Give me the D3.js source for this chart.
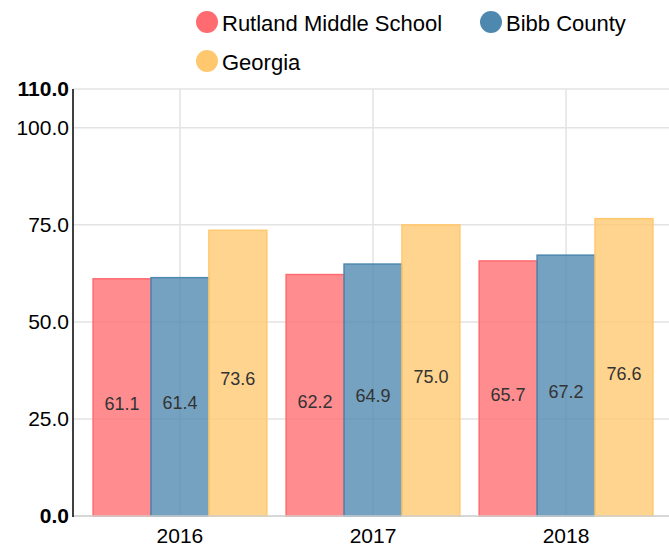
<!DOCTYPE html>
<html><head><meta charset="utf-8">
<script src="https://cdn.jsdelivr.net/npm/d3@7"></script>
<style>body{margin:0;background:#fff;} text{font-family:"Liberation Sans",Arial,sans-serif;}</style>
</head><body>
<svg id="c" width="669" height="547"></svg>
<script>
const categories = ["2016", "2017", "2018"];
const seriesNames = ["Rutland Middle School", "Bibb County", "Georgia"];
const rutland = [61.1, 62.2, 65.7];
const bibb = [61.4, 64.9, 67.2];
const georgia = [73.6, 75.0, 76.6];
const yTicks = [0, 25, 50, 75, 100, 110];
const colors = ["#ff6b70", "#4e88ae", "#ffc86e"];
const seriesValues = [rutland, bibb, georgia];

const svg = d3.select("#c");
const x0 = d3.scaleBand().domain(categories).range([73, 673]).paddingInner(0.1).paddingOuter(0.104);
const x1 = d3.scaleBand().domain(seriesNames).range([0, x0.bandwidth()]);
const y = d3.scaleLinear().domain([0, 110]).range([516, 89]);

// grid
svg.append("g").selectAll("line").data(yTicks).join("line")
  .attr("x1", 73).attr("x2", 669).attr("y1", d => y(d)).attr("y2", d => y(d))
  .attr("stroke", "#e3e3e3").attr("stroke-width", 1.5);
svg.append("g").selectAll("line").data(categories).join("line")
  .attr("x1", d => x0(d) + x0.bandwidth()/2).attr("x2", d => x0(d) + x0.bandwidth()/2)
  .attr("y1", 89).attr("y2", 516)
  .attr("stroke", "#e3e3e3").attr("stroke-width", 1.5);

// bars
const groups = svg.append("g").selectAll("g").data(categories).join("g")
  .attr("transform", d => `translate(${x0(d)},0)`);
groups.each(function(cat, ci) {
  const g = d3.select(this);
  seriesNames.forEach((s, si) => {
    const v = seriesValues[si][ci];
    g.append("rect").attr("x", x1(s)).attr("width", x1.bandwidth())
      .attr("y", y(v)).attr("height", y(0) - y(v))
      .attr("fill", colors[si]).attr("fill-opacity", 0.78)
      .attr("stroke", colors[si]).attr("stroke-width", 1.5);
    g.append("text").attr("x", x1(s) + x1.bandwidth()/2).attr("y", y(v/2) + 6)
      .attr("dy", "0.35em").attr("text-anchor", "middle")
      .attr("font-size", 18).attr("fill", "#333").text(v.toFixed(1));
  });
});

// axes
svg.append("line").attr("x1", 73).attr("x2", 669).attr("y1", 516).attr("y2", 516)
  .attr("stroke", "#d0d0d0").attr("stroke-width", 1.5);
svg.append("line").attr("x1", 73).attr("x2", 73).attr("y1", 89).attr("y2", 517)
  .attr("stroke", "#000").attr("stroke-width", 1.5);
svg.append("g").selectAll("text").data(yTicks).join("text")
  .attr("x", 69).attr("y", d => y(d)).attr("dy", "0.35em").attr("text-anchor", "end")
  .attr("font-size", 21).attr("font-weight", d => (d === 0 || d === 110) ? "bold" : "normal")
  .attr("fill", "#000").text(d => d.toFixed(1));
svg.append("g").selectAll("text").data(categories).join("text")
  .attr("x", d => x0(d) + x0.bandwidth()/2).attr("y", 543)
  .attr("text-anchor", "middle").attr("font-size", 21).attr("fill", "#000").text(d => d);

// legend
const legendPos = [[207, 22], [491, 22], [207, 61]];
seriesNames.forEach((s, i) => {
  const [lx, ly] = legendPos[i];
  svg.append("circle").attr("cx", lx).attr("cy", ly).attr("r", 11).attr("fill", colors[i]);
  svg.append("text").attr("x", lx + 15).attr("y", ly + 1).attr("dy", "0.35em")
    .attr("font-size", 22).attr("fill", "#000").text(s);
});
</script>
</body></html>
